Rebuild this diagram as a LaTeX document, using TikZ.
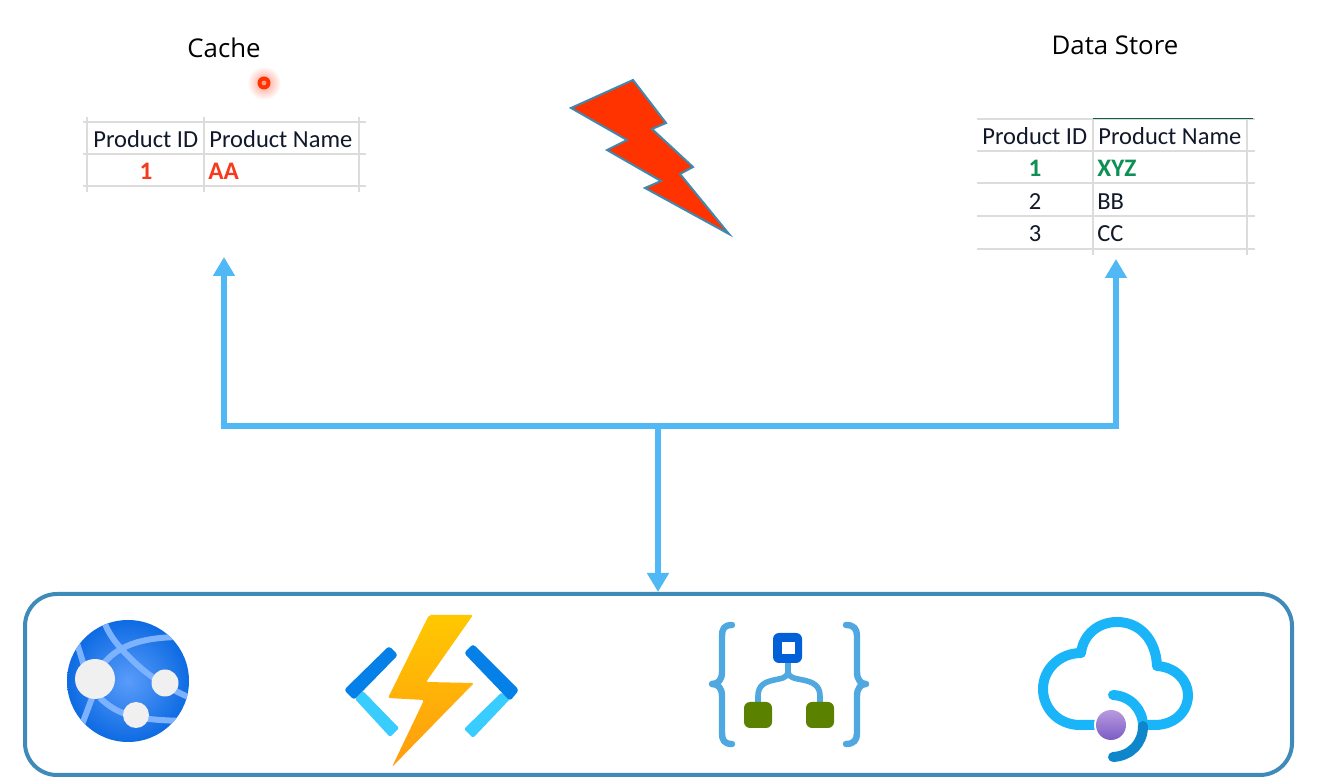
\documentclass[tikz,border=0pt]{standalone}
\usepackage{fontspec}
\setmainfont{Carlito}
\newfontfamily\titlefont{Open Sans}
\usetikzlibrary{arrows.meta}
\definecolor{flowblue}{HTML}{4FB8F5}
\definecolor{boxblue}{HTML}{3E8AB8}
\definecolor{gridgrey}{HTML}{DCDCDC}
\definecolor{inktext}{HTML}{10182A}
\definecolor{redtext}{HTML}{F53A1E}
\definecolor{greentext}{HTML}{0E8F55}
\definecolor{boltred}{HTML}{FF3300}
\definecolor{boltedge}{HTML}{3F88B0}
\definecolor{globelines}{HTML}{7DB2FF}
\definecolor{globeinner}{HTML}{5A9CFA}
\definecolor{globeouter}{HTML}{0062DE}
\definecolor{nodewhite}{HTML}{F0F0F0}
\definecolor{fndark}{HTML}{0480E8}
\definecolor{fnlight}{HTML}{38CCFF}
\definecolor{logicblue}{HTML}{4FA8E0}
\definecolor{logicdark}{HTML}{0060D8}
\definecolor{logicgreen}{HTML}{5A8200}
\definecolor{cloudblue}{HTML}{1AB4F8}
\definecolor{clouddark}{HTML}{0E86CC}
\definecolor{purpletop}{HTML}{B89ADF}
\definecolor{purplebot}{HTML}{7C5CC4}
\definecolor{boltyellow}{HTML}{FFC800}
\definecolor{boltorange}{HTML}{FF9C10}
\definecolor{glow}{HTML}{FF9A88}
\tikzset{
  titletext/.style={font=\titlefont\fontsize{12.9}{15}\selectfont,text=black,inner sep=0pt,anchor=base},
  celltext/.style={font=\fontsize{12.25}{15}\selectfont,text=inktext,inner sep=0pt,anchor=base west},
  cellnum/.style={font=\fontsize{12.25}{15}\selectfont,text=inktext,inner sep=0pt,anchor=base},
  gridline/.style={draw=gridgrey,line width=0.55pt},
  flow/.style={draw=flowblue,line width=2.6pt},
  flowtip/.style={flow,-{Triangle[width=10.5pt,length=9.5pt]}},
  groupbox/.style={draw=boxblue,line width=2pt,rounded corners=16pt,fill=white,minimum width=633.5pt,minimum height=90.5pt,inner sep=0pt},
}
\begin{document}
\begin{tikzpicture}[x=0.5pt,y=-0.5pt]
\useasboundingbox (0,0) rectangle (1318,779);
% titles
\node[titletext] (cachetitle) at (224,58) {Cache};
\node[titletext] (storetitle) at (1115,55) {Data Store};
% pointer dot
\shade[inner color=glow,outer color=white] (264,83) circle [radius=17];
\fill[boltred] (264,83) circle [radius=6.5];
\fill[glow] (264,83) circle [radius=2.4];
% cache table
\foreach \yy in {122,154,186} \draw[gridline] (83,\yy) -- (366,\yy);
\foreach \xx in {87,204,359} \draw[gridline] (\xx,117) -- (\xx,192);
\node[celltext] (c1) at (93,148) {Product ID};
\node[celltext] (c2) at (209,148) {Product Name};
\node[cellnum,text=redtext,font=\fontsize{12.6}{15}\selectfont\bfseries] (c3) at (146,180) {1};
\node[celltext,text=redtext,font=\fontsize{12.6}{15}\selectfont\bfseries] (c4) at (208,180) {AA};
% store table
\foreach \yy in {119,151,183,216,249} \draw[gridline] (977,\yy) -- (1255,\yy);
\foreach \xx in {1093,1247} \draw[gridline] (\xx,119) -- (\xx,255);
\draw[draw=greentext!70!black,line width=0.5pt] (1093,119) -- (1253,119);
\node[celltext] (d1) at (982,145) {Product ID};
\node[celltext] (d2) at (1098,145) {Product Name};
\node[cellnum,text=greentext,font=\fontsize{12.6}{15}\selectfont\bfseries] (d3) at (1035,177) {1};
\node[celltext,text=greentext,font=\fontsize{12.6}{15}\selectfont\bfseries] (d4) at (1097,177) {XYZ};
\node[cellnum] (d5) at (1035,210) {2};
\node[celltext] (d6) at (1097,210) {BB};
\node[cellnum] (d7) at (1035,242) {3};
\node[celltext] (d8) at (1097,242) {CC};
% lightning
\draw[fill=boltred,draw=boltedge,line width=1pt,line join=miter]
 (633,80) -- (666,123) -- (652,129) -- (693,167) -- (680,174) -- (729,234)
 -- (645,188) -- (661,181) -- (607,150) -- (627,140) -- (571,108) -- cycle;
% group box
\node[groupbox] (group) at (658.5,684.5) {};
% connectors
\coordinate (cachein) at (224,257);
\coordinate (storein) at (1116,259);
\coordinate (hub) at (658,426);
\coordinate (hubl) at (224,426);
\coordinate (hubr) at (1116,426);
\draw[flow,line cap=rect] (hubl) -- (hubr);
\draw[flowtip] (hubl) -- (cachein);
\draw[flowtip] (hubr) -- (storein);
\draw[flowtip] (hub) -- (group.north -| hub);
% web app globe
\begin{scope}
\clip (128,681) circle [radius=61];
\shade[inner color=globeinner,outer color=globeouter] (128,681) circle [radius=72];
\draw[globelines,line width=3pt]
 (103,618) .. controls (108,635) and (118,645) .. (125,653)
 .. controls (140,668) and (155,683) .. (195,700)
 (100,668) .. controls (112,652) and (130,637) .. (182,637)
 (76,640) -- (86,672)
 (92,698) -- (80,730)
 (100,698) .. controls (118,715) and (135,720) .. (185,721);
\end{scope}
\fill[nodewhite] (95,679) circle [radius=20];
\fill[nodewhite] (165,683) circle [radius=13.5];
\fill[nodewhite] (136,715) circle [radius=13];
% function icon
\fill[fnlight,rounded corners=1pt] (355,699) -- (363,691) -- (399,728) -- (390,737) -- cycle;
\fill[fndark,rounded corners=1.5pt] (389,646) -- (398,655) -- (354,700) -- (344,690) -- cycle;
\fill[fnlight,rounded corners=1pt] (502,692) -- (510,699) -- (473,738) -- (464,729) -- cycle;
\fill[fndark,rounded corners=1.5pt] (464,653) -- (473,644) -- (519,690) -- (510,701) -- cycle;
\shade[top color=boltyellow,bottom color=boltorange,rounded corners=1pt]
 (429,615) -- (473,615) -- (426,682) -- (474,683) -- (392,767) -- (424,700) -- (388,698) -- cycle;
% logic app icon
\draw[logicblue,line width=3.2pt,line cap=round,line join=round]
 (732,625) .. controls (724,625) and (722,629) .. (722,636) -- (722,672)
 .. controls (722,680) and (718,684) .. (712,684) .. controls (718,684) and (722,688) .. (722,696)
 -- (722,733) .. controls (722,740) and (724,744) .. (732,744);
\draw[logicblue,line width=3.2pt,line cap=round,line join=round]
 (846,625) .. controls (854,625) and (857,629) .. (857,636) -- (857,672)
 .. controls (857,680) and (861,684) .. (866,684) .. controls (861,684) and (857,688) .. (857,696)
 -- (857,733) .. controls (857,740) and (854,744) .. (846,744);
\draw[logicblue,line width=2.8pt]
 (788,660) -- (788,672) .. controls (788,684) and (758,674) .. (758,696) -- (758,705)
 (788,672) .. controls (788,684) and (820,674) .. (820,696) -- (820,705);
\fill[logicdark,rounded corners=3pt] (773,633) rectangle (802,663);
\fill[white] (782,642) rectangle (794.5,654);
\fill[logicgreen,rounded corners=3pt] (744,702) rectangle (772,728);
\fill[logicgreen,rounded corners=3pt] (806,702) rectangle (834,728);
% cloud icon
\draw[cloudblue,line width=5pt,line cap=round,line join=round]
 (1097,725) -- (1080,725) .. controls (1058,725) and (1043,708) .. (1043,689)
 .. controls (1043,669) and (1060,653) .. (1081,653)
 .. controls (1083,635) and (1098,622) .. (1117,622)
 .. controls (1140,622) and (1156,640) .. (1157,666)
 .. controls (1175,667) and (1188,680) .. (1188,695)
 .. controls (1188,712) and (1174,725) .. (1155,725) -- (1143,725);
\draw[cloudblue,line width=5pt,line cap=round] (1113,695) .. controls (1131,696) and (1143,710) .. (1143,726);
\draw[clouddark,line width=5pt,line cap=round] (1143,726) .. controls (1143,743) and (1131,756) .. (1113,757);
\fill[white] (1111,725) ellipse [x radius=17,y radius=17];
\shade[top color=purpletop,bottom color=purplebot] (1111,725) ellipse [x radius=15,y radius=15];
\end{tikzpicture}
\end{document}
